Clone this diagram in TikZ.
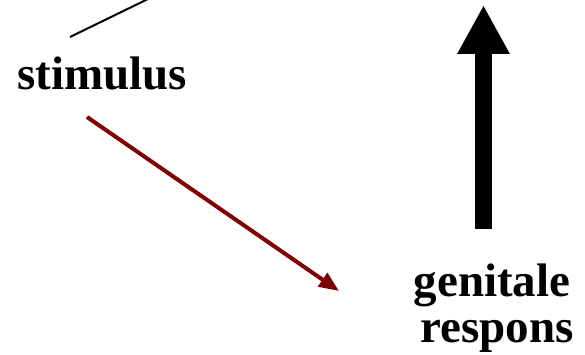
\documentclass[tikz,border=0pt]{standalone}
\usepackage{fontspec}
\setmainfont{Liberation Serif}
\usepackage{xcolor}
\usetikzlibrary{arrows.meta, positioning}
\definecolor{donkerrood}{RGB}{128,0,0}

\begin{document}
\begin{tikzpicture}[x=1pt, y=1pt,
    woord/.style={font=\fontsize{47}{46}\selectfont\bfseries, inner sep=0pt, anchor=base},
    pijlrood/.style={donkerrood, line width=4pt, -{Triangle[length=20pt,width=16pt]}},
    pijldik/.style={line width=17pt, -{Triangle[length=49pt,width=49pt]}}]
    \useasboundingbox (0,0) rectangle (585,355);

    % Woorden
    \node[woord] (stim) at (102,265) {stimulus};
    \node[woord] (gen) at (492,58) {genitale};
    \node[woord] (resp) at (497,12) {respons};

    % Vrije eindpunten
    \coordinate (lijnA) at (70,318);
    \coordinate (lijnB) at (148,356);
    \coordinate (roodA) at (87,238);
    \coordinate (roodB) at (339,64);
    \coordinate (dikA) at (483.5,126);
    \coordinate (dikB) at (483.5,350);

    % Lijnen en pijlen
    \draw[line width=2pt] (lijnA) -- (lijnB);
    \draw[pijlrood] (roodA) -- (roodB);
    \draw[pijldik] (dikA) -- (dikB);
\end{tikzpicture}
\end{document}
